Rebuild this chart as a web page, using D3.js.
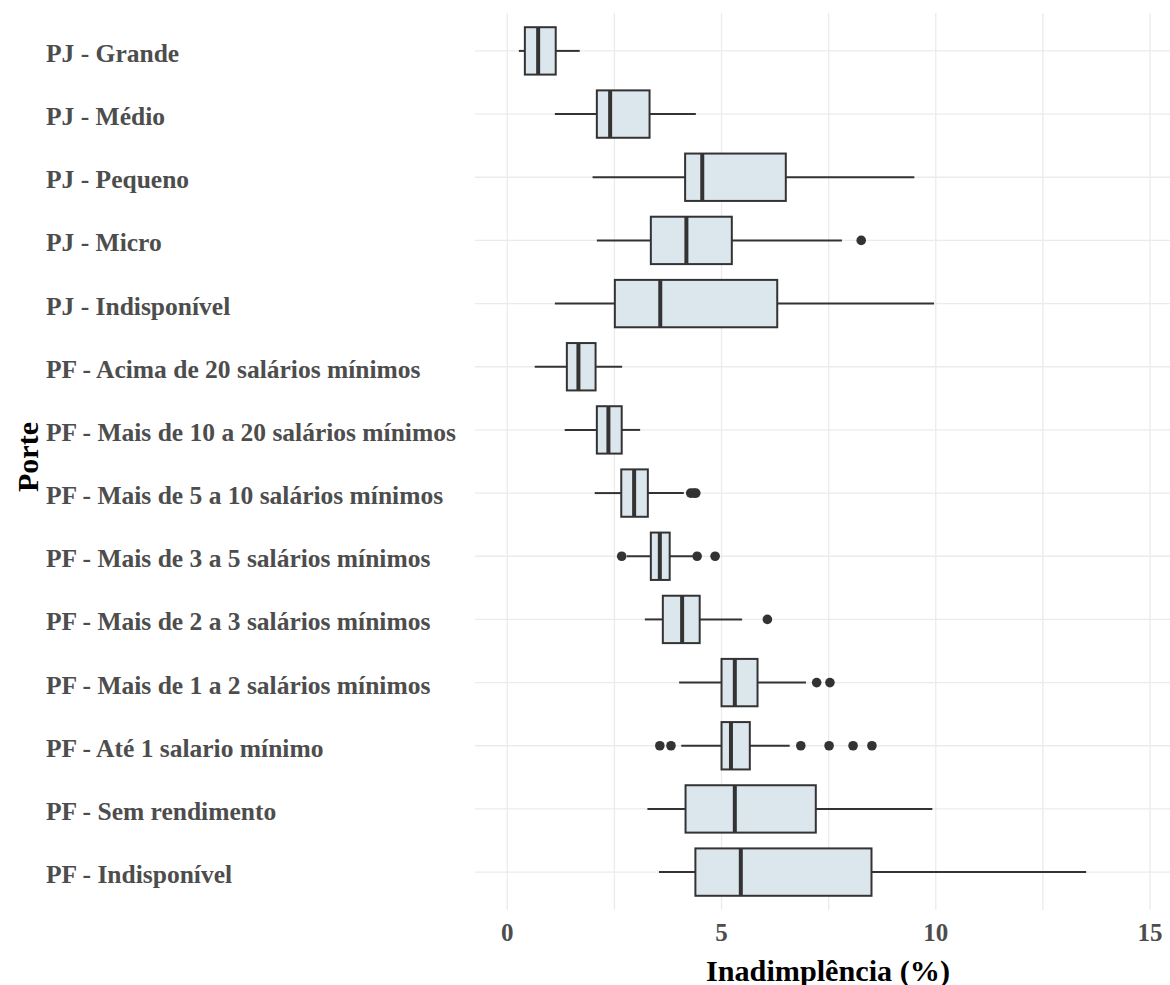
<!DOCTYPE html>
<html>
<head>
<meta charset="utf-8">
<script src="https://cdn.jsdelivr.net/npm/d3@7"></script>
<style>
  body { margin: 0; background: #fff; }
  text { font-family: "Liberation Serif", "Times New Roman", serif; font-weight: bold; }
</style>
</head>
<body>
<div id="chart"></div>
<script>
// categories, top to bottom
const categories = [
  "PJ - Grande", "PJ - Médio", "PJ - Pequeno", "PJ - Micro", "PJ - Indisponível",
  "PF - Acima de 20 salários mínimos", "PF - Mais de 10 a 20 salários mínimos",
  "PF - Mais de 5 a 10 salários mínimos", "PF - Mais de 3 a 5 salários mínimos",
  "PF - Mais de 2 a 3 salários mínimos", "PF - Mais de 1 a 2 salários mínimos",
  "PF - Até 1 salario mínimo", "PF - Sem rendimento", "PF - Indisponível"
];
const whiskerLow  = [0.27, 1.11, 1.99, 2.09, 1.11, 0.64, 1.34, 2.04, 2.79, 3.21, 4.01, 4.06, 3.27, 3.54];
const q1          = [0.41, 2.09, 4.15, 3.35, 2.51, 1.39, 2.09, 2.66, 3.35, 3.63, 5.00, 5.00, 4.16, 4.39];
const median      = [0.72, 2.40, 4.55, 4.18, 3.57, 1.66, 2.36, 2.96, 3.56, 4.08, 5.31, 5.22, 5.31, 5.45];
const q3          = [1.13, 3.32, 6.50, 5.24, 6.30, 2.06, 2.67, 3.28, 3.79, 4.49, 5.84, 5.66, 7.20, 8.50];
const whiskerHigh = [1.69, 4.40, 9.50, 7.81, 9.96, 2.68, 3.10, 4.12, 4.33, 5.48, 6.97, 6.59, 9.92, 13.51];
const outliers = [
  [], [], [], [8.26], [], [], [],
  [4.28, 4.35, 4.40],
  [2.67, 4.43, 4.85],
  [6.07],
  [7.22, 7.53],
  [3.56, 3.82, 6.85, 7.51, 8.07, 8.51],
  [], []
];
const xTicks = [0, 5, 10, 15];
const xGrid = [0, 2.5, 5, 7.5, 10, 12.5, 15];

const width = 1170, height = 985;
const panel = { left: 475, right: 1170, top: 13, bottom: 910 };

const svg = d3.select("#chart").append("svg")
  .attr("width", width)
  .attr("height", height);

const x = d3.scaleLinear().domain([0, 15]).range([507.3, 1150]);
const y = d3.scalePoint().domain(categories).range([panel.top, panel.bottom]).padding(0.6);
const half = y.step() * 0.75 / 2;

// grid
svg.append("g").selectAll("line.v").data(xGrid).join("line")
  .attr("x1", d => x(d)).attr("x2", d => x(d))
  .attr("y1", panel.top).attr("y2", panel.bottom)
  .attr("stroke", "#ebebeb").attr("stroke-width", 1.3);
svg.append("g").selectAll("line.h").data(categories).join("line")
  .attr("x1", panel.left).attr("x2", panel.right)
  .attr("y1", d => y(d)).attr("y2", d => y(d))
  .attr("stroke", "#ebebeb").attr("stroke-width", 1.3);

const rows = categories.map((c, i) => ({
  c, lo: whiskerLow[i], q1: q1[i], med: median[i], q3: q3[i], hi: whiskerHigh[i], out: outliers[i]
}));

const g = svg.append("g").selectAll("g.box").data(rows).join("g").attr("class", "box");

g.append("line")
  .attr("x1", d => x(d.lo)).attr("x2", d => x(d.q1))
  .attr("y1", d => y(d.c)).attr("y2", d => y(d.c))
  .attr("stroke", "#333").attr("stroke-width", 2);
g.append("line")
  .attr("x1", d => x(d.q3)).attr("x2", d => x(d.hi))
  .attr("y1", d => y(d.c)).attr("y2", d => y(d.c))
  .attr("stroke", "#333").attr("stroke-width", 2);
g.append("rect")
  .attr("x", d => x(d.q1)).attr("width", d => x(d.q3) - x(d.q1))
  .attr("y", d => y(d.c) - half).attr("height", half * 2)
  .attr("fill", "#dce6ed").attr("stroke", "#333").attr("stroke-width", 2);
g.append("line")
  .attr("x1", d => x(d.med)).attr("x2", d => x(d.med))
  .attr("y1", d => y(d.c) - half).attr("y2", d => y(d.c) + half)
  .attr("stroke", "#333").attr("stroke-width", 4);
g.selectAll("circle").data(d => d.out.map(v => ({ v, c: d.c }))).join("circle")
  .attr("cx", d => x(d.v)).attr("cy", d => y(d.c)).attr("r", 4.8)
  .attr("fill", "#333");

// y labels, left aligned
svg.append("g").selectAll("text").data(categories).join("text")
  .attr("x", 46).attr("y", d => y(d) + 2.5)
  .attr("dominant-baseline", "central")
  .attr("font-size", 25.5).attr("fill", "#4d4d4d")
  .text(d => d);

// x tick labels
svg.append("g").selectAll("text").data(xTicks).join("text")
  .attr("x", d => x(d)).attr("y", 932)
  .attr("text-anchor", "middle").attr("dominant-baseline", "central")
  .attr("font-size", 25).attr("fill", "#4d4d4d")
  .text(d => d);

// axis titles
svg.append("text")
  .attr("x", 828).attr("y", 970)
  .attr("text-anchor", "middle").attr("dominant-baseline", "central")
  .attr("font-size", 30).attr("fill", "#000")
  .attr("textLength", 244).attr("lengthAdjust", "spacingAndGlyphs")
  .text("Inadimplência (%)");
svg.append("text")
  .attr("transform", "translate(27,457) rotate(-90)")
  .attr("text-anchor", "middle").attr("dominant-baseline", "central")
  .attr("font-size", 30).attr("fill", "#000")
  .text("Porte");
</script>
</body>
</html>
